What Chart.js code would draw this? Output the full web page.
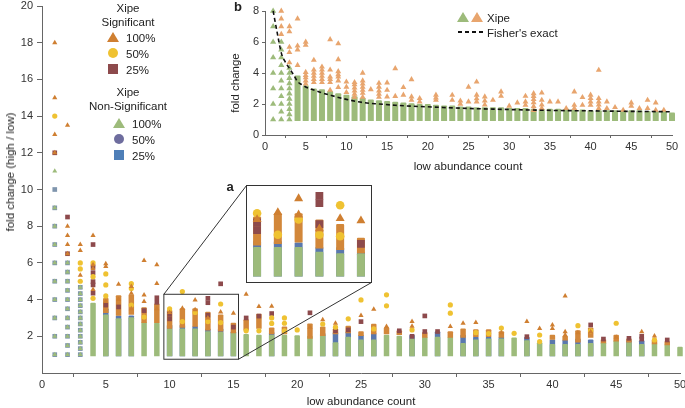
<!DOCTYPE html>
<html lang="en">
<head>
<meta charset="UTF-8">
<title>Xipe fold change vs low abundance count</title>
<script src="https://cdn.jsdelivr.net/npm/chart.js"></script>
<style>
	body { margin: 0; background: #fff; font-family: 'Liberation Sans', Arial, sans-serif; color: #222; }
	#wrap { position: relative; width: 685px; height: 408px; overflow: hidden; }
	#main { position: absolute; left: 0; top: 0; }
	#insetB { position: absolute; left: 220px; top: 0; background: #fff; }
	#boxA { position: absolute; left: 246px; top: 185px; width: 126px; height: 98px; border: 1px solid #333; box-sizing: border-box; background: #fff; }
	#boxA canvas { display: block; }
	.t { position: absolute; white-space: nowrap; font-size: 11.5px; line-height: 14px; transform: translate(-50%, -50%); }
	.l { position: absolute; white-space: nowrap; font-size: 11.5px; line-height: 14px; transform: translateY(-50%); }
	.rot { transform: translate(-50%, -50%) rotate(-90deg); }
	.bold { font-weight: bold; font-size: 13px; }
	.mk { position: absolute; transform: translate(-50%, -50%); }
	.tri { width: 12px; height: 10px; clip-path: polygon(50% 0, 100% 100%, 0 100%); }
	.dot { width: 10px; height: 10px; border-radius: 50%; }
	.sq { width: 10px; height: 10px; }
	.dash { position: absolute; height: 2px; background: repeating-linear-gradient(90deg, #111 0 4px, transparent 4px 7px); }
</style>
</head>
<body>
<div id="wrap">
	<canvas id="main" width="685" height="408"></canvas>
	<canvas id="insetB" width="465" height="175"></canvas>
	<div id="boxA"><canvas id="insetA" width="124" height="96"></canvas></div>

	<!-- main legend -->
	<div class="t" style="left:128px;top:8px">Xipe</div>
	<div class="t" style="left:128px;top:22px">Significant</div>
	<div class="mk tri" style="left:113px;top:37px;background:#cf7f31"></div>
	<div class="l" style="left:126px;top:38px">100%</div>
	<div class="mk dot" style="left:113px;top:53px;background:#efc232"></div>
	<div class="l" style="left:126px;top:54px">50%</div>
	<div class="mk sq" style="left:113px;top:69px;background:#8d4a4c"></div>
	<div class="l" style="left:126px;top:70px">25%</div>
	<div class="t" style="left:128px;top:92px">Xipe</div>
	<div class="t" style="left:128px;top:106px">Non-Significant</div>
	<div class="mk tri" style="left:119px;top:123px;background:#9dbb7b"></div>
	<div class="l" style="left:132px;top:124px">100%</div>
	<div class="mk dot" style="left:119px;top:139px;background:#6e6d9e"></div>
	<div class="l" style="left:132px;top:140px">50%</div>
	<div class="mk sq" style="left:119px;top:155px;background:#4f7fb8"></div>
	<div class="l" style="left:132px;top:156px">25%</div>

	<!-- axis titles -->
	<div class="t" style="left:361px;top:401px">low abundance count</div>
	<div class="t rot" style="left:10px;top:172px">fold change (high / low)</div>
	<div class="t" style="left:468px;top:166px">low abundance count</div>
	<div class="t rot" style="left:235px;top:83px">fold change</div>
	<div class="t bold" style="left:238px;top:7px">b</div>
	<div class="t bold" style="left:230px;top:187px">a</div>

	<!-- panel b legend -->
	<div class="mk tri" style="left:463px;top:17px;background:#9dbb7b"></div>
	<div class="mk tri" style="left:477px;top:17px;background:#e8a56e"></div>
	<div class="l" style="left:487px;top:18px">Xipe</div>
	<div class="dash" style="left:458px;top:31px;width:25px"></div>
	<div class="l" style="left:487px;top:33px">Fisher's exact</div>
</div>

<script>
	// ---- main panel data (x = low abundance count, y = fold change) ----
	// non-significant, sparse columns (count 1-3)
	const nsDiscrete = [
		[1,1],[1,2],[1,3],[1,4],[1,5],[1,6],[1,7],[1,8],[1,9],
		[2,1],[2,1.5],[2,2],[2,2.5],[2,3],[2,3.5],[2,4],[2,4.5],[2,5],[2,5.5],[2,6],
		[3,1],[3,1.33],[3,1.67],[3,2],[3,2.33],[3,2.67],[3,3],[3,3.33],[3,3.67],[3,4],[3,4.33],[3,4.67]
	];
	const nsExtraSquares = [[1,10]];
	const nsExtraTriangles = [[1,11]];
	// top of the dense green (100%) stack, each stack starts at 1
	const nsGreenTops = [
		[4,3.75],[5,3.1],[6,2.9],[7,2.95],[8,2.7],[9,2.65],[10,2.35],[11,2.35],[12,2.35],[13,2.2],
		[14,2.15],[15,2.15],[16,2.05],[17,2.0],[18,2.0],[19,2.0],[20,1.98],[21,1.95],[22,2.0],[23,1.6],
		[24,1.9],[25,1.75],[26,1.75],[27,2.0],[28,1.95],[29,1.8],[30,1.9],[31,1.9],[32,1.9],[33,1.55],
		[34,1.75],[35,1.8],[36,1.8],[37,1.85],[38,1.7],[39,1.6],[40,1.5],[41,1.5],[42,1.5],[43,1.55],
		[44,1.6],[45,1.7],[46,1.6],[47,1.5],[48,1.55],[49,1.5],[50,1.35]
	];
	// top of the blue / purple (50%, 25%) part where it rises above the green
	const nsBlueTops = [
		[5,3.45],[6,3.05],[7,3.05],[10,2.55],[11,2.55],[12,2.5],[13,2.35],[14,2.35],[15,2.2],[18,2.15],
		[22,2.1],[23,2.15],[24,2.2],[25,2.0],[26,2.1],[29,2.0],[31,2.2],[33,2.0],[34,1.9],[35,1.9],
		[36,1.9],[38,1.9],[40,1.75],[41,1.75],[42,1.8],[43,1.75],[46,1.7],[47,1.7]
	];
	// dense significant stacks [count, low, high]
	const sigStacks = [
		[5,3.35,4.0],[6,3.2,4.15],[7,3.25,4.2],[8,2.8,3.5],[9,2.8,3.7],[10,2.5,3.35],[11,2.55,3.45],
		[12,2.6,3.45],[13,2.4,3.25],[14,2.35,3.1],[15,2.25,2.65],[16,2.4,2.85],[17,2.5,3.15],[18,2.2,2.4],
		[19,2.2,2.45],[21,1.95,2.62],[22,2.1,2.45],[23,2.2,2.35],[24,2.25,2.5],[25,2.1,2.2],[26,2.2,2.6],
		[27,2.2,2.4],[28,2.15,2.25],[30,2.0,2.15],[32,2.0,2.2],[33,2.0,2.35],[34,2.05,2.3],[35,2.05,2.3],
		[36,2.0,2.2],[40,1.9,2.0],[41,1.85,1.95],[42,1.75,2.25],[43,2.0,2.4],[44,1.7,1.75],[45,1.8,2.0],
		[46,1.75,1.8],[48,1.65,1.75],[49,1.6,1.65]
	];
	const sigTriangles = [
		[1,18],[1,15],[1,13],[1,12],[2,13.5],[2,8],[2,7.5],[2,7],[2,6.5],[3,7],[3,6.67],[3,5.33],
		[4,7.5],[4,5.9],[4,5.7],[4,4.55],[5,5.95],[5,5.8],[5,3.9],[6,4.84],[6,4.0],[7,4.72],[7,4.35],
		[7,3.5],[8,6.13],[8,4.25],[8,3.9],[9,5.9],[9,4.88],[9,3.5],[10,3.3],[11,3.53],[12,3.98],
		[12,3.45],[13,3.0],[14,3.33],[15,3.26],[16,4.29],[17,3.62],[18,3.64],[21,2.5],[22,2.9],
		[23,2.71],[25,3.13],[26,3.47],[27,2.53],[29,2.8],[29,2.55],[32,2.53],[33,2.71],[34,2.75],
		[36,2.2],[38,2.8],[39,2.43],[40,2.62],[40,2.43],[41,4.2],[41,2.25],[41,2.07],[42,2.2],
		[43,2.25],[45,1.95],[47,2.25],[48,2.02]
	];
	const sigCircles = [
		[1,14],[3,6],[3,5.67],[3,5],[4,6],[4,5.25],[4,4.07],[5,5.4],[5,4.8],[5,4.2],[7,4.87],[7,4.6],
		[7,3.7],[8,3.05],[10,3.5],[11,4.44],[11,2.8],[12,3.3],[13,2.8],[14,3.76],[14,2.75],[16,2.3],
		[17,2.3],[18,3.0],[18,2.7],[19,3.0],[19,2.71],[19,2.3],[20,2.35],[22,2.67],[23,2.5],[24,2.95],
		[25,3.98],[26,2.4],[27,4.26],[27,3.66],[29,2.35],[32,3.71],[32,3.26],[34,2.2],[35,2.15],
		[36,2.45],[37,2.16],[39,2.07],[39,1.71],[42,2.58],[43,2.3],[45,2.71],[48,1.8]
	];
	const sigSquares = [
		[1,12],[2,8.5],[2,6.5],[4,7],[4,5.8],[4,5.47],[4,4.98],[4,4.8],[4,4.35],[5,3.7],[6,3.6],
		[8,3.4],[9,4.1],[9,3.85],[10,3.2],[10,2.95],[13,4.07],[13,3.83],[13,3.15],[14,4.86],[15,2.5],
		[16,3.0],[17,3.1],[18,3.24],[21,3.28],[23,2.3],[24,2.35],[25,2.8],[28,2.3],[29,2.0],[30,3.11],
		[30,2.26],[31,2.26],[38,1.98],[43,2.62],[44,1.85],[46,1.89],[47,2.0],[47,1.85],[49,1.8]
	];
	// zoomed region shown in panel a
	const zoomBox = { x0: 9.55, x1: 15.4, y0: 0.75, y1: 4.29 };

	// ---- panel b data ----
	const bGreenDiscrete = [
		[1,1],[1,2],[1,3],[1,4],[1,5],[1,6],[1,7],[1,8],
		[2,1],[2,1.5],[2,2],[2,2.5],[2,3],[2,3.5],[2,4],[2,4.5],[2,5],[2,5.5],[2,6],
		[3,1],[3,1.33],[3,1.67],[3,2],[3,2.33],[3,2.67],[3,3],[3,3.33],[3,3.67],[3,4],[3,4.33]
	];
	const bGreenTops = [
		[4,3.75],[5,3.1],[6,2.9],[7,2.85],[8,2.75],[9,2.6],[10,2.5],[11,2.4],[12,2.3],[13,2.2],
		[14,2.15],[15,2.1],[16,2.05],[17,2.0],[18,1.95],[19,1.9],[20,1.9],[21,1.85],[22,1.8],[23,1.8],
		[24,1.75],[25,1.75],[26,1.7],[27,1.7],[28,1.7],[29,1.7],[30,1.65],[31,1.65],[32,1.65],[33,1.6],
		[34,1.6],[35,1.6],[36,1.6],[37,1.6],[38,1.55],[39,1.55],[40,1.5],[41,1.5],[42,1.5],[43,1.5],
		[44,1.5],[45,1.5],[46,1.5],[47,1.45],[48,1.45],[49,1.45],[50,1.35]
	];
	const bOrange = [
		[2,6.5],[2,7],[2,7.5],[2,8],[3,4.67],[3,5.33],[3,5.67],[3,6.67],[3,7],[4,4.5],[4,5.5],[4,5.75],
		[4,7.5],[5,3.3],[5,3.5],[5,3.7],[5,3.85],[5,4.05],[5,5.8],[5,6.0],[6,3.4],[6,3.6],[6,3.8],[6,4.0],
		[6,4.2],[6,4.83],[7,3.4],[7,3.6],[7,3.8],[7,4.0],[7,4.2],[7,4.4],[8,3.4],[8,3.6],[8,3.75],[8,4.2],
		[8,6.16],[8,2.9],[9,3.5],[9,3.75],[9,3.9],[9,4.1],[9,5.9],[9,4.87],[9,3.07],[10,3.43],[10,3.1],
		[10,2.75],[11,2.45],[11,2.65],[11,2.85],[11,3.05],[11,3.25],[11,3.4],[12,2.45],[12,2.7],[12,2.9],
		[12,3.1],[12,3.3],[12,3.5],[12,4.0],[13,2.94],[14,2.45],[14,2.65],[14,2.85],[14,3.1],[14,3.35],
		[15,3.37],[15,2.9],[15,2.47],[16,4.29],[16,2.5],[17,3.07],[17,2.58],[18,3.58],[18,2.47],
		[18,2.25],[19,2.36],[19,2.15],[21,2.58],[21,2.4],[21,2.26],[23,2.57],[23,2.25],[24,2.0],[24,2.2],
		[25,3.1],[25,2.15],[26,3.43],[26,2.15],[26,2.35],[26,2.58],[27,1.95],[27,2.2],[27,2.47],[28,2.25],
		[29,2.79],[29,2.51],[30,1.87],[31,2.08],[32,2.51],[32,2.15],[32,1.93],[33,1.6],[33,1.85],[33,2.1],
		[33,2.3],[33,2.5],[33,2.68],[34,1.72],[34,1.95],[34,2.25],[34,2.72],[35,2.15],[36,2.15],[37,1.72],
		[38,1.72],[38,1.93],[38,2.79],[39,2.43],[39,1.93],[40,1.93],[40,2.15],[40,2.36],[40,2.58],
		[41,1.72],[41,1.95],[41,2.15],[41,2.36],[41,4.19],[42,2.15],[42,1.72],[43,1.78],[44,1.61],
		[45,2.08],[45,1.87],[46,1.72],[47,2.25],[47,1.72],[48,2.08],[48,1.61],[49,1.61]
	];
	const fisherX = [1, 1.5, 2, 2.5, 3, 3.5, 4, 4.5, 5, 6, 7, 8, 10, 12, 14, 16, 18, 20, 24, 28, 32, 36, 40, 44, 50];
	const fisherY = [8.0, 6.6, 5.3, 4.7, 4.3, 3.9, 3.45, 3.25, 3.1, 2.9, 2.72, 2.57, 2.3, 2.1, 2.0, 1.92, 1.86, 1.82, 1.73, 1.67, 1.62, 1.58, 1.56, 1.53, 1.5];

	const C = {
		green: '#9dbb7b', blue: '#5a78ad', nsEdge: '#7f95ad',
		orange: '#cf7f31', stack: '#d2873a', yellow: '#efc232', brown: '#8d4a4c',
		bOrange: '#e8a56e', axis: '#666', text: '#333'
	};
	const FONT = "'Liberation Sans', Arial, sans-serif";

	const pts = arr => arr.map(p => ({ x: p[0], y: p[1] }));
	const bars = arr => arr.map(p => ({ x: p[0], y: p.length > 2 ? [p[1], p[2]] : [1, p[1]] }));

	function barSet(arr, color, s, order) {
		return { type: 'bar', data: bars(arr), backgroundColor: color, barThickness: s.bar, inflateAmount: s.inf,
			borderRadius: 1, grouped: false, order: order, clip: s.clip };
	}
	function pointSet(arr, color, style, r, order, clip) {
		return { type: 'scatter', data: pts(arr), backgroundColor: color, borderWidth: 0, pointStyle: style,
			pointRadius: r, pointHoverRadius: r, order: order, clip: clip };
	}

	// same layers for the main panel and for the magnified panel a
	function mainLayers(s) {
		return [
			barSet(nsBlueTops, C.blue, s, 10),
			barSet(nsGreenTops, C.green, s, 9),
			pointSet(nsDiscrete.concat(nsExtraSquares), C.nsEdge, 'rect', s.sq, 8, s.clip),
			pointSet(nsDiscrete.concat(nsExtraTriangles), C.green, 'triangle', s.tri * 0.95, 7, s.clip),
			barSet(sigStacks, C.stack, s, 6),
			pointSet(sigSquares, C.brown, 'rect', s.sq, 5, s.clip),
			pointSet(sigCircles, C.yellow, 'circle', s.dot, 4, s.clip),
			pointSet(sigTriangles, C.orange, 'triangle', s.tri, 3, s.clip)
		];
	}

	function axisOpts(min, max, step, tickLen, pad, fit, hideZero) {
		return {
			type: 'linear', min: min, max: max, offset: false,
			ticks: { stepSize: step, color: C.text, font: { family: FONT, size: 11 }, padding: pad, maxRotation: 0,
				autoSkip: false, callback: v => (hideZero && v === 0) ? '' : v },
			grid: { display: true, drawOnChartArea: false, drawTicks: true, tickLength: tickLen,
				color: ctx => (hideZero && ctx.tick && ctx.tick.value === 0) ? 'rgba(0,0,0,0)' : C.axis },
			border: { display: true, color: C.axis },
			afterFit: fit
		};
	}

	const boxPlugin = {
		id: 'zoomBox',
		afterDatasetsDraw(chart) {
			const { ctx, scales: { x, y } } = chart;
			const box = document.getElementById('boxA');
			const L = box.offsetLeft, T = box.offsetTop;
			const R = L + box.offsetWidth - 1, B = T + box.offsetHeight - 1;
			const x0 = x.getPixelForValue(zoomBox.x0), x1 = x.getPixelForValue(zoomBox.x1);
			const y0 = y.getPixelForValue(zoomBox.y0), y1 = y.getPixelForValue(zoomBox.y1);
			ctx.save();
			ctx.strokeStyle = '#333';
			ctx.lineWidth = 1;
			ctx.strokeRect(x0, y1, x1 - x0, y0 - y1);
			ctx.beginPath();
			ctx.moveTo(x0, y1); ctx.lineTo(L + 0.5, T + 0.5);
			ctx.moveTo(x1, y0); ctx.lineTo(R + 0.5, B + 0.5);
			ctx.stroke();
			ctx.restore();
		}
	};

	const common = {
		responsive: false, animation: false, devicePixelRatio: 1, events: [],
		plugins: { legend: { display: false }, tooltip: { enabled: false } }
	};

	// main panel
	new Chart(document.getElementById('main'), {
		type: 'scatter',
		data: { datasets: mainLayers({ bar: 2.5, inf: 1.5, tri: 3, dot: 2.6, sq: 3.3, clip: false }) },
		options: Object.assign({}, common, {
			layout: { padding: { top: 6, right: 5, bottom: 1, left: 0 } },
			scales: {
				x: axisOpts(0, 50, 5, 4, 1, s => { s.height = 34; s.paddingLeft = 0; s.paddingRight = 0; }, false),
				y: axisOpts(0, 20, 2, 5, 4, s => { s.width = 42; s.paddingTop = 0; s.paddingBottom = 0; }, true)
			}
		}),
		plugins: [boxPlugin]
	});

	// panel b
	new Chart(document.getElementById('insetB'), {
		type: 'scatter',
		data: {
			datasets: [
				{ type: 'scatter', data: fisherX.map((v, i) => ({ x: v, y: fisherY[i] })), showLine: true,
					borderColor: '#111', borderWidth: 1.6, borderDash: [4, 3], pointRadius: 0,
					cubicInterpolationMode: 'monotone', order: 1, clip: false },
				barSet(bGreenTops, C.green, { bar: 3, inf: 1.5, clip: false }, 5),
				pointSet(bGreenDiscrete, C.green, 'triangle', 3.6, 4, false),
				pointSet(bOrange, C.bOrange, 'triangle', 3.4, 2, false)
			]
		},
		options: Object.assign({}, common, {
			layout: { padding: { top: 11, right: 13, bottom: 0, left: 0 } },
			scales: {
				x: axisOpts(0, 50, 5, 3, 2, s => { s.height = 40; s.paddingLeft = 0; s.paddingRight = 0; }, false),
				y: axisOpts(0, 8, 2, 3, 3, s => { s.width = 45; s.paddingTop = 0; s.paddingBottom = 0; }, false)
			}
		})
	});

	// panel a: magnified view of counts 10-15
	new Chart(document.getElementById('insetA'), {
		type: 'scatter',
		data: { datasets: mainLayers({ bar: 5, inf: 1.5, tri: 5.2, dot: 4.3, sq: 5.5, clip: undefined }) },
		options: Object.assign({}, common, {
			layout: { padding: 0 },
			scales: {
				x: { type: 'linear', min: 9.78, max: 15.22, offset: false, display: false },
				y: { type: 'linear', min: 1.44, max: 4.21, display: false }
			}
		})
	});
</script>
</body>
</html>
